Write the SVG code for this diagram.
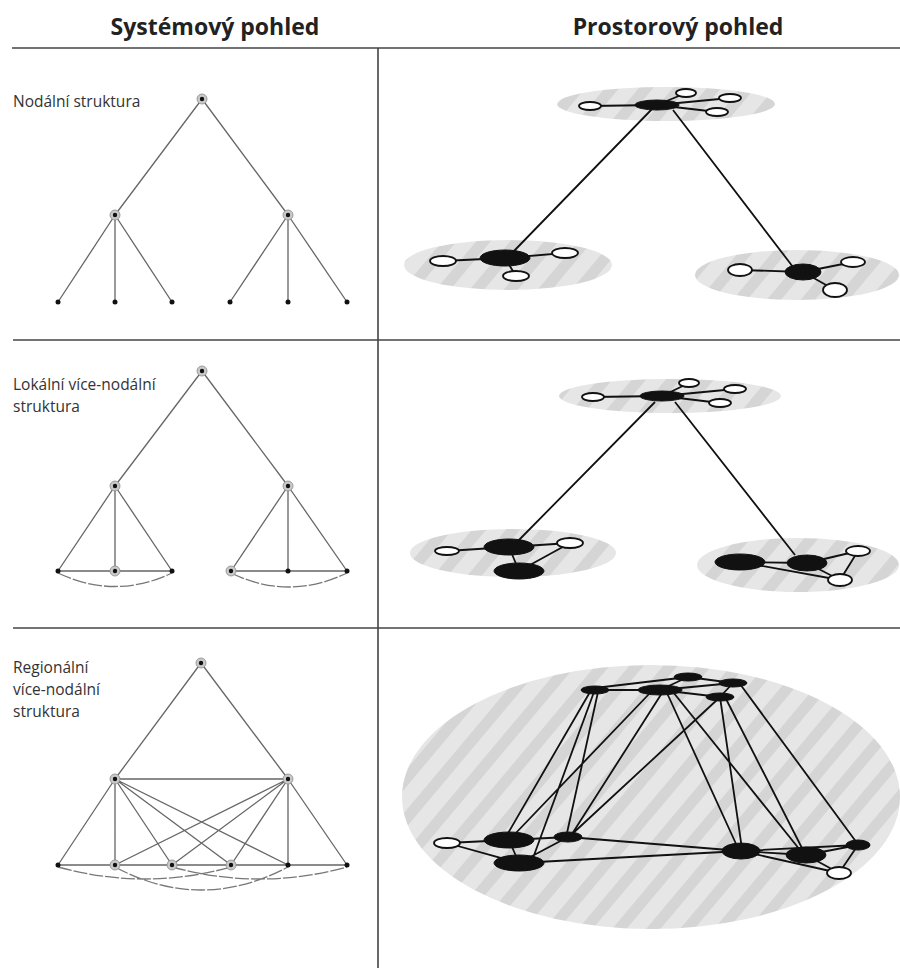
<svg xmlns="http://www.w3.org/2000/svg" width="900" height="968" viewBox="0 0 900 968">
<defs>
<pattern id="mottle" width="26" height="26" patternUnits="userSpaceOnUse" patternTransform="rotate(40)">
<rect width="26" height="26" fill="#e6e6e6"/>
<rect width="11" height="26" fill="#d5d5d5"/>
</pattern>
<style>
.hdr{font-family:"Open Sans","Liberation Sans",sans-serif;font-weight:bold;font-size:23px;fill:#222;text-anchor:middle}
.lbl{font-family:"Open Sans","Liberation Sans",sans-serif;font-size:15.5px;fill:#333}
.grid{stroke:#444;stroke-width:1.6;fill:none}
.tl{stroke:#666;stroke-width:1.3;fill:none}
.arc{stroke:#777;stroke-width:1.3;fill:none;stroke-dasharray:14 2}
.ring{fill:#c9c9c9;stroke:#8a8a8a;stroke-width:0.8}
.dot{fill:#111}
.reg{fill:url(#mottle)}
.sl{stroke:#111;stroke-width:1.8;fill:none}
.bk{fill:#111;stroke:#111;stroke-width:1}
.wh{fill:#fff;stroke:#111;stroke-width:1.8}
</style>
</defs>
<rect width="900" height="968" fill="#fff"/>

<g id="grid">
<text class="hdr" x="215" y="35">Systémový pohled</text>
<text class="hdr" x="678" y="35">Prostorový pohled</text>
<line class="grid" x1="12" y1="48" x2="900" y2="48" stroke-width="2"/>
<line class="grid" x1="378" y1="48" x2="378" y2="968"/>
<line class="grid" x1="13" y1="340" x2="900" y2="340"/>
<line class="grid" x1="13" y1="628" x2="900" y2="628"/>
</g>

<g id="labels">
<text class="lbl" x="13" y="107">Nodální struktura</text>
<text class="lbl" x="13" y="390">Lokální více-nodální</text>
<text class="lbl" x="13" y="412">struktura</text>
<text class="lbl" x="13" y="673">Regionální</text>
<text class="lbl" x="13" y="695">více-nodální</text>
<text class="lbl" x="13" y="717">struktura</text>
</g>

<g id="regions">
<ellipse class="reg" cx="666" cy="104" rx="109" ry="17"/>
<ellipse class="reg" cx="508" cy="265" rx="104" ry="25"/>
<ellipse class="reg" cx="797" cy="275" rx="102" ry="25"/>
<ellipse class="reg" cx="670" cy="396" rx="111" ry="17"/>
<ellipse class="reg" cx="513" cy="553" rx="103" ry="24"/>
<ellipse class="reg" cx="798" cy="565" rx="101" ry="27"/>
<ellipse class="reg" cx="651" cy="797" rx="249" ry="132"/>
</g>

<g id="connectors">
<!-- left panel 1 -->
<path class="tl" d="M202,99 L115,215 M202,99 L288,215 M115,215 L58,302 M115,215 L115,302 M115,215 L172,302 M288,215 L230,302 M288,215 L288,302 M288,215 L347,302"/>
<!-- left panel 2 -->
<path class="tl" d="M202,371 L115,486 M202,371 L288,486 M115,486 L58,571 M115,486 L115,571 M115,486 L172,571 M288,486 L231,571 M288,486 L288,571 M288,486 L347,571 M58,571 L172,571 M231,571 L347,571"/>
<path class="arc" d="M58,573 Q115,600 172,573 M231,573 Q289,601 347,573"/>
<!-- left panel 3 -->
<path class="tl" d="M201,663 L115,779 M201,663 L288,779 M115,779 L288,779 M115,779 L58,865 M115,779 L115,865 M115,779 L172,865 M115,779 L231,865 M115,779 L288,865 M288,779 L347,865 M288,779 L288,865 M288,779 L231,865 M288,779 L172,865 M288,779 L115,865 M58,865 L347,865"/>
<path class="arc" d="M58,867 Q145,891 231,867 M115,867 Q201,913 288,867 M172,867 Q260,891 347,867"/>
<!-- right panel 1 -->
<path class="sl" d="M657,105 L590,106 M657,105 L686,93 M657,105 L730,98 M657,105 L717,112 M653,108 L513,252 M673,110 L793,267 M505,258 L443,261 M505,258 L565,253 M505,258 L516,276 M803,272 L740,270 M803,272 L853,262 M803,272 L835,290"/>
<!-- right panel 2 -->
<path class="sl" d="M662,396 L593,397 M662,396 L689,383 M662,396 L735,389 M662,396 L720,403 M655,402 L518,541 M675,402 L795,555 M509,547 L447,551 M509,547 L570,543 M509,547 L519,571 M519,571 L570,543 M740,562 L807,563 M807,563 L858,551 M858,551 L840,580 M807,563 L840,580 M740,562 L840,580"/>
<!-- right panel 3 -->
<path class="sl" d="M595,690 L660,690 M595,688 L688,677 M660,690 L688,677 M688,677 L733,683 M660,690 L733,683 M660,690 L720,697 M733,683 L720,697 M590,692 L507,835 M594,692 L533,858 M598,692 L567,833 M650,693 L513,836 M662,693 L572,834 M718,699 L570,836 M667,693 L737,846 M673,692 L800,850 M720,697 L742,849 M725,697 L804,852 M740,684 L857,843 M447,843 L509,840 M447,843 L519,863 M509,840 L519,863 M509,840 L568,837 M519,863 L568,837 M568,837 L741,851 M519,863 L741,851 M741,851 L806,855 M741,851 L858,845 M806,855 L858,845 M741,851 L839,873 M806,855 L839,873 M858,845 L839,873"/>
</g>

<g id="left-nodes">
<g id="p1-top"><circle class="ring" cx="202" cy="99" r="5"/><circle class="dot" cx="202" cy="99" r="2.2"/></g>
<g id="p1-mid-l"><circle class="ring" cx="115" cy="215" r="5"/><circle class="dot" cx="115" cy="215" r="2.2"/></g>
<g id="p1-mid-r"><circle class="ring" cx="288" cy="215" r="5"/><circle class="dot" cx="288" cy="215" r="2.2"/></g>
<g id="p1-leaves"><circle class="dot" cx="58" cy="302" r="2.5"/><circle class="dot" cx="115" cy="302" r="2.5"/><circle class="dot" cx="172" cy="302" r="2.5"/><circle class="dot" cx="230" cy="302" r="2.5"/><circle class="dot" cx="288" cy="302" r="2.5"/><circle class="dot" cx="347" cy="302" r="2.5"/></g>

<g id="p2-top"><circle class="ring" cx="202" cy="371" r="5"/><circle class="dot" cx="202" cy="371" r="2.2"/></g>
<g id="p2-mid-l"><circle class="ring" cx="115" cy="486" r="5"/><circle class="dot" cx="115" cy="486" r="2.2"/></g>
<g id="p2-mid-r"><circle class="ring" cx="288" cy="486" r="5"/><circle class="dot" cx="288" cy="486" r="2.2"/></g>
<g id="p2-leaves">
<circle class="dot" cx="58" cy="571" r="2.5"/>
<circle class="ring" cx="115" cy="571" r="5"/><circle class="dot" cx="115" cy="571" r="2.2"/>
<circle class="dot" cx="172" cy="571" r="2.5"/>
<circle class="ring" cx="231" cy="571" r="5"/><circle class="dot" cx="231" cy="571" r="2.2"/>
<circle class="dot" cx="288" cy="571" r="2.5"/>
<circle class="dot" cx="347" cy="571" r="2.5"/>
</g>

<g id="p3-top"><circle class="ring" cx="201" cy="663" r="5"/><circle class="dot" cx="201" cy="663" r="2.2"/></g>
<g id="p3-mid-l"><circle class="ring" cx="115" cy="779" r="5"/><circle class="dot" cx="115" cy="779" r="2.2"/></g>
<g id="p3-mid-r"><circle class="ring" cx="288" cy="779" r="5"/><circle class="dot" cx="288" cy="779" r="2.2"/></g>
<g id="p3-leaves">
<circle class="dot" cx="58" cy="865" r="2.5"/>
<circle class="ring" cx="115" cy="865" r="5"/><circle class="dot" cx="115" cy="865" r="2.2"/>
<circle class="ring" cx="172" cy="865" r="5"/><circle class="dot" cx="172" cy="865" r="2.2"/>
<circle class="ring" cx="231" cy="865" r="5"/><circle class="dot" cx="231" cy="865" r="2.2"/>
<circle class="dot" cx="288" cy="865" r="2.5"/>
<circle class="dot" cx="347" cy="865" r="2.5"/>
</g>
</g>

<g id="right-nodes">
<g id="r1-top"><ellipse class="bk" cx="657" cy="105" rx="22" ry="5"/><ellipse class="wh" cx="590" cy="106" rx="11" ry="4"/><ellipse class="wh" cx="686" cy="93" rx="10" ry="4"/><ellipse class="wh" cx="730" cy="98" rx="11" ry="4"/><ellipse class="wh" cx="717" cy="112" rx="11" ry="4"/></g>
<g id="r1-left"><ellipse class="bk" cx="505" cy="258" rx="25" ry="8"/><ellipse class="wh" cx="443" cy="261" rx="13" ry="5"/><ellipse class="wh" cx="565" cy="253" rx="13" ry="5"/><ellipse class="wh" cx="516" cy="276" rx="13" ry="5"/></g>
<g id="r1-right"><ellipse class="bk" cx="803" cy="272" rx="18" ry="8"/><ellipse class="wh" cx="740" cy="270" rx="12" ry="6"/><ellipse class="wh" cx="853" cy="262" rx="12" ry="5"/><ellipse class="wh" cx="835" cy="290" rx="12" ry="7"/></g>

<g id="r2-top"><ellipse class="bk" cx="662" cy="396" rx="22" ry="5"/><ellipse class="wh" cx="593" cy="397" rx="11" ry="4"/><ellipse class="wh" cx="689" cy="383" rx="10" ry="4"/><ellipse class="wh" cx="735" cy="389" rx="11" ry="4"/><ellipse class="wh" cx="720" cy="403" rx="11" ry="4"/></g>
<g id="r2-left"><ellipse class="bk" cx="509" cy="547" rx="25" ry="8"/><ellipse class="bk" cx="519" cy="571" rx="25" ry="8"/><ellipse class="wh" cx="447" cy="551" rx="12" ry="4"/><ellipse class="wh" cx="570" cy="543" rx="13" ry="5"/></g>
<g id="r2-right"><ellipse class="bk" cx="740" cy="562" rx="25" ry="8"/><ellipse class="bk" cx="807" cy="563" rx="20" ry="8"/><ellipse class="wh" cx="858" cy="551" rx="12" ry="5"/><ellipse class="wh" cx="840" cy="580" rx="12" ry="6"/></g>

<g id="r3-nodes">
<ellipse class="bk" cx="595" cy="690" rx="14" ry="4"/>
<ellipse class="bk" cx="660" cy="690" rx="22" ry="5"/>
<ellipse class="bk" cx="688" cy="677" rx="14" ry="4"/>
<ellipse class="bk" cx="733" cy="683" rx="14" ry="4"/>
<ellipse class="bk" cx="720" cy="697" rx="14" ry="4"/>
<ellipse class="wh" cx="447" cy="843" rx="13" ry="5"/>
<ellipse class="bk" cx="509" cy="840" rx="25" ry="8"/>
<ellipse class="bk" cx="519" cy="863" rx="25" ry="8"/>
<ellipse class="bk" cx="568" cy="837" rx="14" ry="5"/>
<ellipse class="bk" cx="741" cy="851" rx="19" ry="8"/>
<ellipse class="bk" cx="806" cy="855" rx="20" ry="8"/>
<ellipse class="bk" cx="858" cy="845" rx="12" ry="5"/>
<ellipse class="wh" cx="839" cy="873" rx="12" ry="6"/>
</g>
</g>
</svg>
